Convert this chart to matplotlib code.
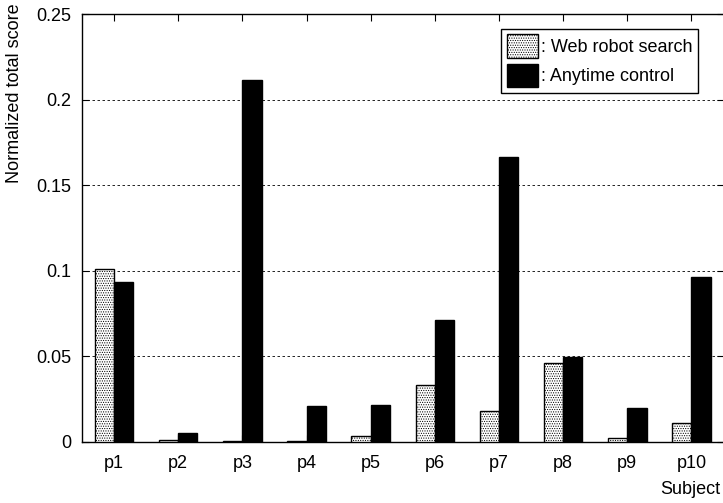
import numpy as np
import matplotlib
matplotlib.use("Agg")
import matplotlib.pyplot as plt

subjects = ['p1', 'p2', 'p3', 'p4', 'p5', 'p6', 'p7', 'p8', 'p9', 'p10']
web_robot = [0.101, 0.001, 0.0004, 0.0004, 0.0032, 0.0331, 0.018, 0.046, 0.0019, 0.0107]
anytime = [0.0936, 0.0048, 0.2117, 0.021, 0.0214, 0.0711, 0.1666, 0.0495, 0.0198, 0.0964]
yticks = [0, 0.05, 0.1, 0.15, 0.2, 0.25]
ytick_labels = ['0', '0.05', '0.1', '0.15', '0.2', '0.25']

plt.rcParams['font.family'] = ['Liberation Sans', 'DejaVu Sans']
plt.rcParams['hatch.color'] = '#999999'
plt.rcParams['hatch.linewidth'] = 0.5

fs = 13
fig = plt.figure(figsize=(7.23, 5.03), dpi=100)
ax = fig.add_axes([82/723, 1 - 441.5/503, (723.5 - 82)/723, (441.5 - 14.3)/503])

x = np.arange(1, len(subjects) + 1)
w = 0.3
ax.bar(x - w/2, web_robot, w, facecolor='white', edgecolor='black', hatch='.......',
       linewidth=1.0, label=': Web robot search', zorder=3)
ax.bar(x + w/2, anytime, w, facecolor='black', edgecolor='black',
       linewidth=1.0, label=': Anytime control', zorder=3)

ax.set_xlim(0.5, 10.5)
ax.set_ylim(0, 0.25)
ax.set_xticks(x)
ax.set_xticklabels(subjects, fontsize=fs)
ax.set_yticks(yticks)
ax.set_yticklabels(ytick_labels, fontsize=fs)
ax.tick_params(direction='in', top=True, right=True, length=5)
ax.tick_params(axis='y', pad=8)
ax.tick_params(axis='x', pad=10)
ax.yaxis.grid(True, linestyle=(0, (3, 3)), color='black', linewidth=0.6)
ax.set_axisbelow(True)
for s in ax.spines.values():
    s.set_linewidth(1.0)

leg = fig.legend(loc='upper right', bbox_to_anchor=(698/723, 1 - 29/503),
                 fontsize=fs, fancybox=False, edgecolor='black', framealpha=1,
                 handlelength=1.75, handleheight=1.65, handletextpad=0.15,
                 borderpad=0.3, labelspacing=0.3, borderaxespad=0)
leg.get_frame().set_linewidth(1.0)

fig.text(15/723, 1 - 93/503, 'Normalized total score', rotation=90,
         ha='center', va='center', fontsize=fs)
fig.text(720/723, 1 - 490/503, 'Subject', ha='right', va='center', fontsize=fs)

fig.savefig('out.png', dpi=100)
